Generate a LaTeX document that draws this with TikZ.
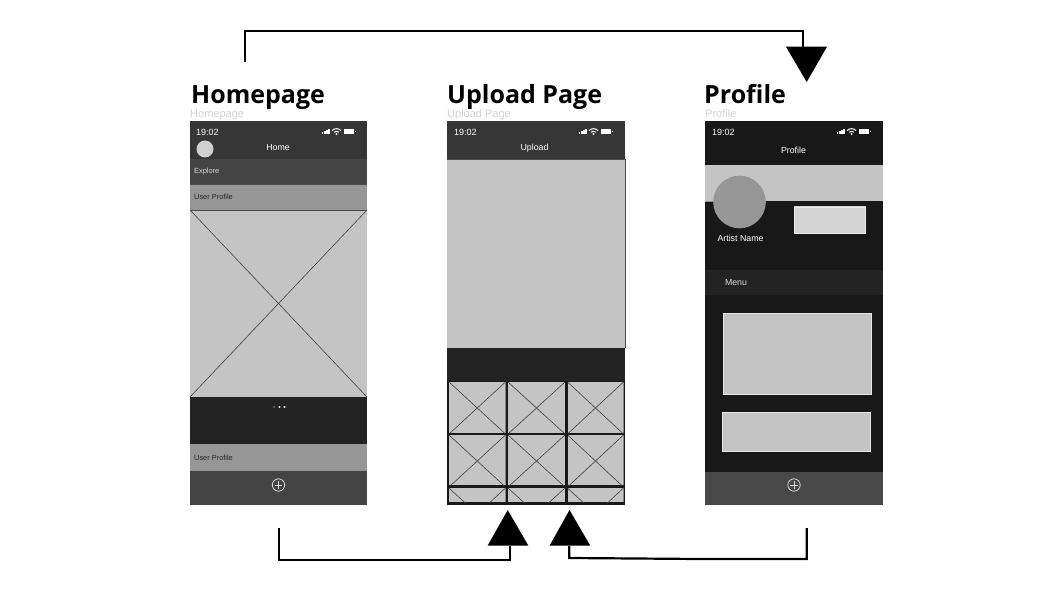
\documentclass[tikz,border=0pt]{standalone}
\usepackage{fontspec}
\setmainfont{Liberation Sans}
\newfontfamily\headfont{Open Sans}
\usetikzlibrary{calc}
\definecolor{hdr}{HTML}{363636}
\definecolor{midbar}{HTML}{444444}
\definecolor{lowbar}{HTML}{484848}
\definecolor{greybar}{HTML}{969696}
\definecolor{imgfill}{HTML}{C4C4C4}
\definecolor{darkbar}{HTML}{232323}
\definecolor{profbg}{HTML}{181818}
\definecolor{capt}{HTML}{D4D4D4}
\tikzset{
  x=1pt,y=-1pt,
  heading/.style={anchor=base west,inner sep=0pt,font=\headfont\bfseries\fontsize{25}{25}\selectfont,text=black},
  caption/.style={anchor=base west,inner sep=0pt,font=\fontsize{11}{11}\selectfont,text=capt},
  uilabel/.style={inner sep=0pt,font=\fontsize{8.8}{9}\selectfont,text=#1},
  uilabel/.default=white,
  tinylabel/.style={anchor=west,inner sep=0pt,font=\fontsize{7.4}{8}\selectfont,text=#1},
  timelabel/.style={anchor=west,inner sep=0pt,font=\fontsize{9}{9}\selectfont,text=white},
  connector/.style={draw=black,line width=2.2pt,line join=miter},
  tipshape/.style={fill=black},
  wire/.style={draw=#1,line width=0.6pt},
  wire/.default=black!75,
}
\newcommand{\statusicons}[1]{%
  \begin{scope}[shift={(#1,131)}]
    \fill[white] (0,1) rectangle (1.4,3);
    \fill[white] (2.1,0) rectangle (3.5,3);
    \fill[white] (4.2,-1) rectangle (5.6,3);
    \fill[white] (6.3,-2.2) rectangle (7.7,3);
    \draw[white,line width=1pt] (10,-0.4) .. controls (12.5,-3) and (16.5,-3) .. (19,-0.4);
    \draw[white,line width=1pt] (12,1.2) .. controls (13.3,0) and (15.7,0) .. (17,1.2);
    \fill[white] (14.5,3) circle (1.1);
    \fill[white] (21.5,-1.8) rectangle (32,2.6);
    \fill[white] (32.7,-0.3) rectangle (33.5,1.1);
  \end{scope}}
\newcommand{\plusicon}[2]{%
  \draw[white!85!black,line width=0.8pt] (#1,#2) circle (6.2);
  \draw[white!85!black,line width=0.8pt] (#1-3.8,#2) -- (#1+3.8,#2) (#1,#2-3.8) -- (#1,#2+3.8);}
\newcommand{\xcell}[4]{%
  \begin{scope}
    \clip (#1,#2) rectangle (#3,#4);
    \fill[imgfill] (#1,#2) rectangle (#3,#4);
    \draw[wire] (#1,#2) -- (#3,#2+52) (#3,#2) -- (#1,#2+52);
  \end{scope}}
\begin{document}
\begin{tikzpicture}
\useasboundingbox (0,0) rectangle (1049,612);
\fill[white] (0,0) rectangle (1049,612);

% headings
\node[heading] (h1) at (191,103.5) {Homepage};
\node[heading] (h2) at (447,103.5) {Upload Page};
\node[heading] (h3) at (704,103.5) {Profile};
\node[caption] (c1) at (190,117.5) {Homepage};
\node[caption] (c2) at (447,117.5) {Upload Page};
\node[caption] (c3) at (705,117.5) {Profile};

% ---------- Homepage
\fill[hdr] (190,121) rectangle (367,159);
\fill[midbar] (190,159) rectangle (367,184);
\fill[greybar] (190,184) rectangle (367,210);
\fill[imgfill] (190,210) rectangle (367,397);
\draw[wire] (190,210) -- (367,397) (367,210) -- (190,397);
\draw[black!70,line width=0.5pt] (190,184) -- (367,184) (190,210) -- (367,210);
\fill[darkbar] (190,397) rectangle (367,444);
\fill[greybar] (190,444) rectangle (367,471);
\fill[midbar] (190,471) rectangle (367,505);
\node[timelabel] (t1) at (196,132) {19:02};
\statusicons{322}
\fill[imgfill!80!white] (205,149) circle (8.5);
\node[uilabel] (l1) at (278,148) {Home};
\node[tinylabel=white!85!black] (l2) at (194,171.5) {Explore};
\node[tinylabel=black!85] (l3) at (194,196.5) {User Profile};
\node[tinylabel=black!85] (l4) at (194,458) {User Profile};
\fill[white!60!black] (274,407) circle (0.9);
\fill[white] (279.5,407) circle (1.1);
\fill[white] (284.5,407) circle (1.1);
\plusicon{278.5}{485}

% ---------- Upload
\fill[hdr] (447,121) rectangle (625,159);
\fill[imgfill] (447,159) rectangle (625,348);
\draw[black!70,line width=0.5pt] (447,159) -- (625,159) (625.2,159) -- (625.2,348);
\fill[darkbar] (447,348) rectangle (625,381);
\fill[black!90] (447,381) rectangle (625,505);
\xcell{449}{382}{505.5}{433}
\xcell{508}{382}{565}{433}
\xcell{567.5}{382}{623.5}{433}
\xcell{449}{435}{505.5}{485}
\xcell{508}{435}{565}{485}
\xcell{567.5}{435}{623.5}{485}
\xcell{449}{488}{505.5}{502}
\xcell{508}{488}{565}{502}
\xcell{567.5}{488}{623.5}{502}
\node[timelabel] (t2) at (454,132) {19:02};
\statusicons{579}
\node[uilabel] (l5) at (534.5,148) {Upload};

% ---------- Profile
\fill[profbg] (705,121) rectangle (883,505);
\fill[imgfill] (705,165) rectangle (883,201);
\fill[white!90!black,opacity=.6] (705,201) rectangle (739,201.8);
\fill[greybar] (739.5,202) circle (26.3);
\fill[capt] (793.5,206.5) rectangle (866,233.5);
\draw[white!92!black,line width=0.7pt] (794,207) rectangle (865.5,233);
\node[uilabel] (l6) at (740.5,238.5) {Artist Name};
\fill[darkbar] (705,270) rectangle (883,295);
\node[uilabel=white!85!black] (l7) at (736,282.5) {Menu};
\node[uilabel] (l8) at (793.5,150.5) {Profile};
\node[timelabel] (t3) at (712,132) {19:02};
\statusicons{837}
\fill[imgfill] (723,313.5) rectangle (871,394.5);
\draw[white!90!black,line width=0.5pt] (723,313.5) rectangle (871,394.5);
\fill[imgfill] (722.5,412.5) rectangle (870,451.5);
\draw[white!90!black,line width=0.5pt] (722.5,412.5) rectangle (870,451.5);
\fill[lowbar] (705,472) rectangle (883,505);
\plusicon{794}{485}

% ---------- arrowheads
\coordinate (topbase) at (802.7,47);
\coordinate (leftbase) at (509.7,546);
\coordinate (rightbase) at (569.3,546);
\fill[tipshape] (786,46.7) -- (827,46.7) -- (806.7,82) -- cycle;
\fill[tipshape] (487.7,545.5) -- (528.3,545.5) -- (507.7,510) -- cycle;
\fill[tipshape] (549.7,545.5) -- (590.2,545.5) -- (569.5,510) -- cycle;

% ---------- connectors
\coordinate (homeTop) at (245,62);
\coordinate (homeBottom) at (278.7,528);
\coordinate (profileBottom) at (806.7,528);
\draw[connector] (homeTop) |- (400,31) -- (802.7,31) -- (topbase);
\draw[connector] (homeBottom) |- (400,559.6) -- (509.7,559.6) -- (leftbase);
\draw[connector] (profileBottom) |- (700,559) -- (569.3,558) -- (rightbase);
\end{tikzpicture}
\end{document}
